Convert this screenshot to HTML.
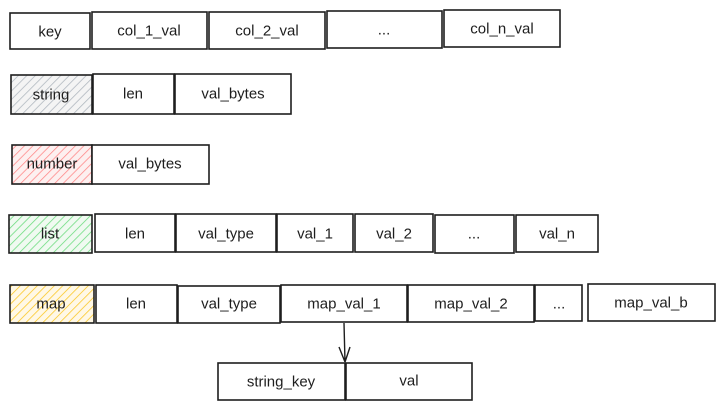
<!DOCTYPE html>
<html><head><meta charset="utf-8"><style>
html,body{margin:0;padding:0;background:#fff;}
svg{display:block;}
text{font-family:"Liberation Sans","DejaVu Sans",sans-serif;font-size:15px;fill:#1e1e1e;text-anchor:middle;dominant-baseline:central;}
.b rect{stroke:#1e1e1e;stroke-width:1.6;}
</style></head><body>
<svg width="725" height="409" viewBox="0 0 725 409" xmlns="http://www.w3.org/2000/svg">
<defs>
<pattern id="hg" width="6" height="6" patternUnits="userSpaceOnUse" patternTransform="rotate(45)"><rect width="6" height="6" fill="#f4f4f4" stroke="none"/><line x1="0" y1="0" x2="0" y2="6" stroke="#adb5bd" stroke-width="1.5"/></pattern>
<pattern id="hr" width="6" height="6" patternUnits="userSpaceOnUse" patternTransform="rotate(45)"><rect width="6" height="6" fill="#fdf0f0" stroke="none"/><line x1="0" y1="0" x2="0" y2="6" stroke="#ff8787" stroke-width="1.5"/></pattern>
<pattern id="hgr" width="6" height="6" patternUnits="userSpaceOnUse" patternTransform="rotate(45)"><rect width="6" height="6" fill="#f0faf1" stroke="none"/><line x1="0" y1="0" x2="0" y2="6" stroke="#69db7c" stroke-width="1.5"/></pattern>
<pattern id="hy" width="6" height="6" patternUnits="userSpaceOnUse" patternTransform="rotate(45)"><rect width="6" height="6" fill="#fff8e6" stroke="none"/><line x1="0" y1="0" x2="0" y2="6" stroke="#fcc419" stroke-width="1.5"/></pattern>
</defs>
<g class="b" fill="#fff">
<rect x="10" y="13" width="80" height="36"/><text x="50" y="32">key</text>
<rect x="92" y="12" width="115" height="37"/><text x="149" y="31">col_1_val</text>
<rect x="209" y="12" width="116" height="37"/><text x="267" y="31">col_2_val</text>
<rect x="327" y="11" width="115" height="37"/><text x="384" y="30">...</text>
<rect x="444" y="10" width="116" height="37"/><text x="502" y="29">col_n_val</text>

<rect x="11" y="75" width="81" height="39" fill="url(#hg)"/><text x="51" y="95">string</text>
<rect x="93" y="74" width="81" height="40"/><text x="133" y="94">len</text>
<rect x="175" y="74" width="116" height="40"/><text x="233" y="94">val_bytes</text>

<rect x="12" y="145" width="80" height="39" fill="url(#hr)"/><text x="52" y="164">number</text>
<rect x="92" y="145" width="117" height="39"/><text x="150" y="164">val_bytes</text>

<rect x="9" y="215" width="83" height="38" fill="url(#hgr)"/><text x="50" y="234">list</text>
<rect x="95" y="214" width="80" height="38"/><text x="135" y="234">len</text>
<rect x="176" y="214" width="100" height="38"/><text x="226" y="234">val_type</text>
<rect x="277" y="214" width="76" height="38"/><text x="315" y="234">val_1</text>
<rect x="355" y="214" width="78" height="38"/><text x="394" y="234">val_2</text>
<rect x="435" y="215" width="79" height="38"/><text x="474" y="234">...</text>
<rect x="516" y="215" width="82" height="37"/><text x="557" y="234">val_n</text>

<rect x="10" y="285" width="84" height="38" fill="url(#hy)"/><text x="51" y="304">map</text>
<rect x="96" y="285" width="81" height="38"/><text x="136" y="304">len</text>
<rect x="178" y="286" width="102" height="37"/><text x="229" y="304">val_type</text>
<rect x="281" y="285" width="126" height="37"/><text x="344" y="304">map_val_1</text>
<rect x="408" y="285" width="126" height="37"/><text x="471" y="304">map_val_2</text>
<rect x="535" y="285" width="47" height="36"/><text x="559" y="304">...</text>
<rect x="588" y="284" width="127" height="37"/><text x="651" y="303">map_val_b</text>

<rect x="218" y="363" width="127" height="37"/><text x="281" y="382">string_key</text>
<rect x="346" y="363" width="126" height="37"/><text x="409" y="381">val</text>
</g>
<path d="M344 323 L345 362 M339 347 L345 362 M350 347 L345 362" stroke="#1e1e1e" stroke-width="1.4" fill="none"/>
</svg>
</body></html>
